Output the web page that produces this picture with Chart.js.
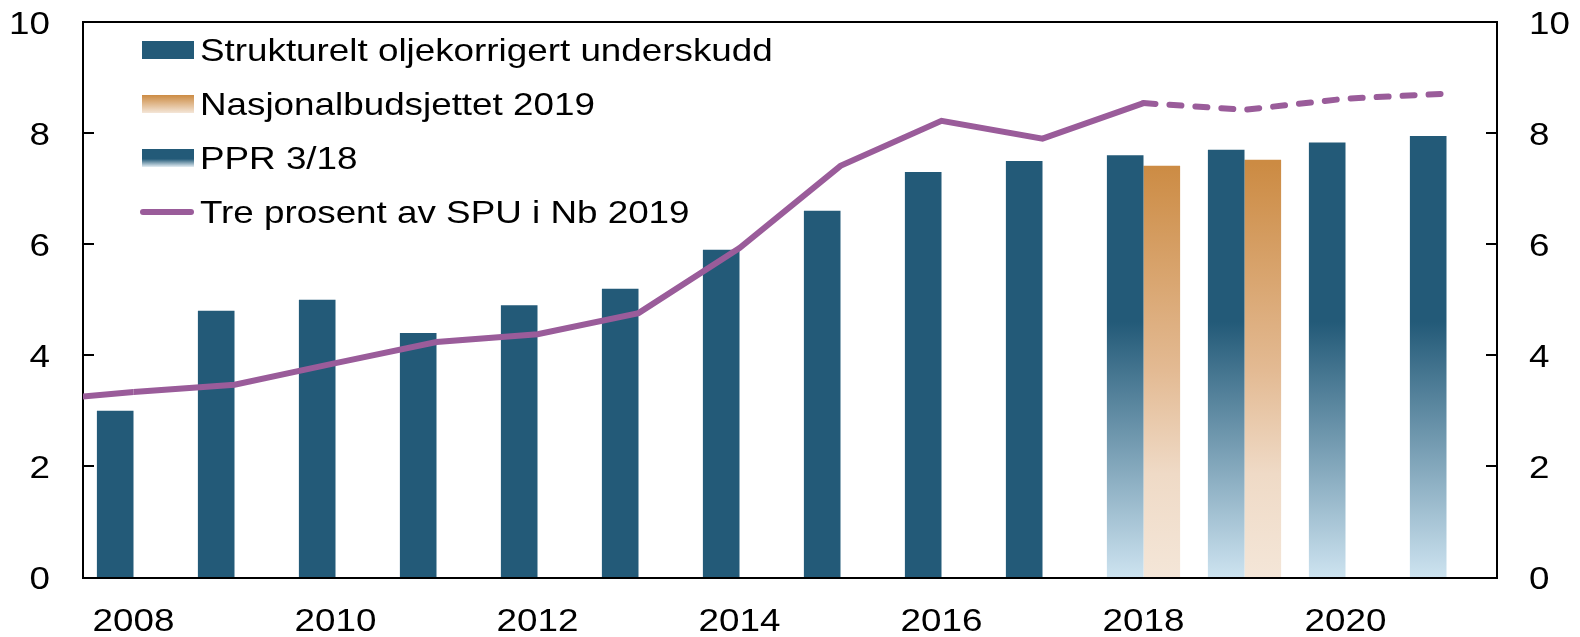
<!DOCTYPE html>
<html>
<head>
<meta charset="utf-8">
<script src="https://cdn.jsdelivr.net/npm/chart.js@4"></script>
<style>
  body { margin: 0; background: #fff; }
  #wrap { position: relative; width: 1580px; height: 637px; }
  .legend { position: absolute; left: 140px; top: 23px; font-family: "Liberation Sans", Arial, sans-serif; font-size: 32px; color: #000; }
  .row { height: 54px; display: flex; align-items: center; white-space: nowrap; }
  .row span { display: inline-block; transform: scaleX(1.15); transform-origin: left center; }
  .sw { width: 52px; height: 18px; margin-right: 6px; margin-left: 2px; flex: none; }
  .ln { width: 54px; height: 6px; border-radius: 3px; margin-right: 6px; background: #9a5c9a; flex: none; }
</style>
</head>
<body>
<div id="wrap">
  <canvas id="chart"></canvas>
  <div class="legend">
    <div class="row"><div class="sw" style="background:#235a78"></div><span>Strukturelt oljekorrigert underskudd</span></div>
    <div class="row"><div class="sw" style="background:linear-gradient(#cc8b43, #f4e6d8)"></div><span>Nasjonalbudsjettet 2019</span></div>
    <div class="row"><div class="sw" style="background:linear-gradient(#235a78 55%, #e4eef4)"></div><span>PPR 3/18</span></div>
    <div class="row"><div class="ln"></div><span>Tre prosent av SPU i Nb 2019</span></div>
  </div>
</div>
<script>
document.addEventListener("DOMContentLoaded", function () {
  var years = ["2008", "2009", "2010", "2011", "2012", "2013", "2014", "2015", "2016", "2017", "2018", "2019", "2020", "2021"];

  // bars
  var structural = [3.0, 4.8, 5.0, 4.4, 4.9, 5.2, 5.9, 6.6, 7.3, 7.5, null, null, null, null];
  var ppr = [null, null, null, null, null, null, null, null, null, null, 7.6, 7.7, 7.83, 7.95];
  var nb2019 = [null, null, null, null, null, null, null, null, null, null, 7.41, 7.52, null, null];

  // three percent line, 2008-2021; the 2007 value only shows as a stub at the left edge
  var line2007 = 3.18;
  var lineValues = [3.34, 3.47, 3.86, 4.24, 4.38, 4.76, 5.93, 7.41, 8.22, 7.9, 8.54, 8.42, 8.62, 8.71];

  var yTicks = [0, 2, 4, 6, 8, 10];

  // structural and PPR sit in the same slot, so they share one dataset
  var blueBars = structural.map(function (v, i) { return v !== null ? v : ppr[i]; });

  var purple = "#9a5c9a";
  var fontCss = "32px 'Liberation Sans', Arial, sans-serif";
  var stretch = 1.15; // reference text is a bit wider than Arial

  function blueFade(c) {
    var chart = c.chart;
    if (structural[c.dataIndex] !== null || !chart.chartArea) return "#235a78";
    var y = chart.scales.y;
    var g = chart.ctx.createLinearGradient(0, y.getPixelForValue(4.6), 0, y.getPixelForValue(0));
    g.addColorStop(0, "#235a78");
    g.addColorStop(1, "#cde3f0");
    return g;
  }

  function orangeFade(c) {
    var chart = c.chart;
    if (!chart.chartArea) return "#cc8b43";
    var y = chart.scales.y;
    var g = chart.ctx.createLinearGradient(0, y.getPixelForValue(7.45), 0, y.getPixelForValue(0));
    g.addColorStop(0, "#cc8b43");
    g.addColorStop(0.5, "#e3ba93");
    g.addColorStop(0.75, "#efdac6");
    g.addColorStop(1, "#f4e6d8");
    return g;
  }

  function text(ctx, t, x, y, align) {
    ctx.save();
    ctx.translate(x, y);
    ctx.scale(stretch, 1);
    ctx.textAlign = align;
    ctx.fillText(t, 0, 0);
    ctx.restore();
  }

  // line stub from 2007, top of the box, inward tick marks, and the tick labels
  var frame = {
    id: "frame",
    afterDatasetsDraw: function (chart) {
      var ctx = chart.ctx, a = chart.chartArea, y = chart.scales.y, x = chart.scales.x;
      ctx.save();
      ctx.beginPath();
      ctx.rect(a.left, a.top, a.right - a.left, a.bottom - a.top);
      ctx.clip();
      ctx.strokeStyle = purple;
      ctx.lineWidth = 6;
      ctx.beginPath();
      ctx.moveTo(x.getPixelForValue(-1), y.getPixelForValue(line2007));
      ctx.lineTo(x.getPixelForValue(0), y.getPixelForValue(lineValues[0]));
      ctx.stroke();
      ctx.restore();
    },
    afterDraw: function (chart) {
      var ctx = chart.ctx, a = chart.chartArea, y = chart.scales.y, x = chart.scales.x;
      ctx.save();
      ctx.strokeStyle = "#000";
      ctx.lineWidth = 2;
      ctx.beginPath();
      ctx.moveTo(a.left - 1, a.top);
      ctx.lineTo(a.right + 1, a.top);
      yTicks.forEach(function (v) {
        if (v === 0 || v === 10) return;
        var p = Math.round(y.getPixelForValue(v));
        ctx.moveTo(a.left, p);
        ctx.lineTo(a.left + 11, p);
        ctx.moveTo(a.right, p);
        ctx.lineTo(a.right - 11, p);
      });
      ctx.stroke();

      ctx.fillStyle = "#000";
      ctx.font = fontCss;
      ctx.textBaseline = "alphabetic";
      yTicks.forEach(function (v) {
        var p = y.getPixelForValue(v) + 11.5;
        text(ctx, String(v), a.left - 33, p, "right");
        text(ctx, String(v), a.right + 32, p, "left");
      });
      years.forEach(function (yr, i) {
        if (i % 2) return;
        text(ctx, yr, x.getPixelForValue(i), 631, "center");
      });
      ctx.restore();
    },
  };

  var yAxis = function (pos) {
    return {
      position: pos,
      min: 0,
      max: 10,
      afterFit: function (s) { s.width = 83; },
      border: { display: true, color: "#000", width: 2 },
      grid: { drawOnChartArea: false, drawTicks: false },
      ticks: { stepSize: 2, display: false },
    };
  };

  new Chart(document.getElementById("chart"), {
    type: "bar",
    data: {
      labels: years,
      datasets: [
        {
          label: "Strukturelt oljekorrigert underskudd / PPR 3/18",
          data: blueBars,
          order: 1,
          categoryPercentage: 0.725,
          barPercentage: 1,
          backgroundColor: blueFade,
        },
        {
          label: "Nasjonalbudsjettet 2019",
          data: nb2019,
          order: 2,
          categoryPercentage: 0.725,
          barPercentage: 1,
          backgroundColor: orangeFade,
        },
        {
          type: "line",
          label: "Tre prosent av SPU i Nb 2019",
          data: lineValues,
          order: 0,
          borderColor: purple,
          borderWidth: 6,
          pointRadius: 0,
          segment: {
            borderDash: function (c) { return c.p0DataIndex >= 10 ? [12, 14] : undefined; },
            borderCapStyle: function (c) { return c.p0DataIndex >= 10 ? "round" : "butt"; },
          },
        },
      ],
    },
    options: {
      responsive: true,
      maintainAspectRatio: false,
      animation: false,
      layout: { padding: { top: 22, left: 0, right: 0, bottom: 0 } },
      plugins: { legend: { display: false }, tooltip: { enabled: false } },
      scales: {
        x: {
          afterFit: function (s) { s.height = 59.5; },
          border: { display: true, color: "#000", width: 2 },
          grid: { display: false, drawTicks: false },
          ticks: { display: false },
        },
        y: yAxis("left"),
        y2: yAxis("right"),
      },
    },
    plugins: [frame],
  });
});
</script>
</body>
</html>
